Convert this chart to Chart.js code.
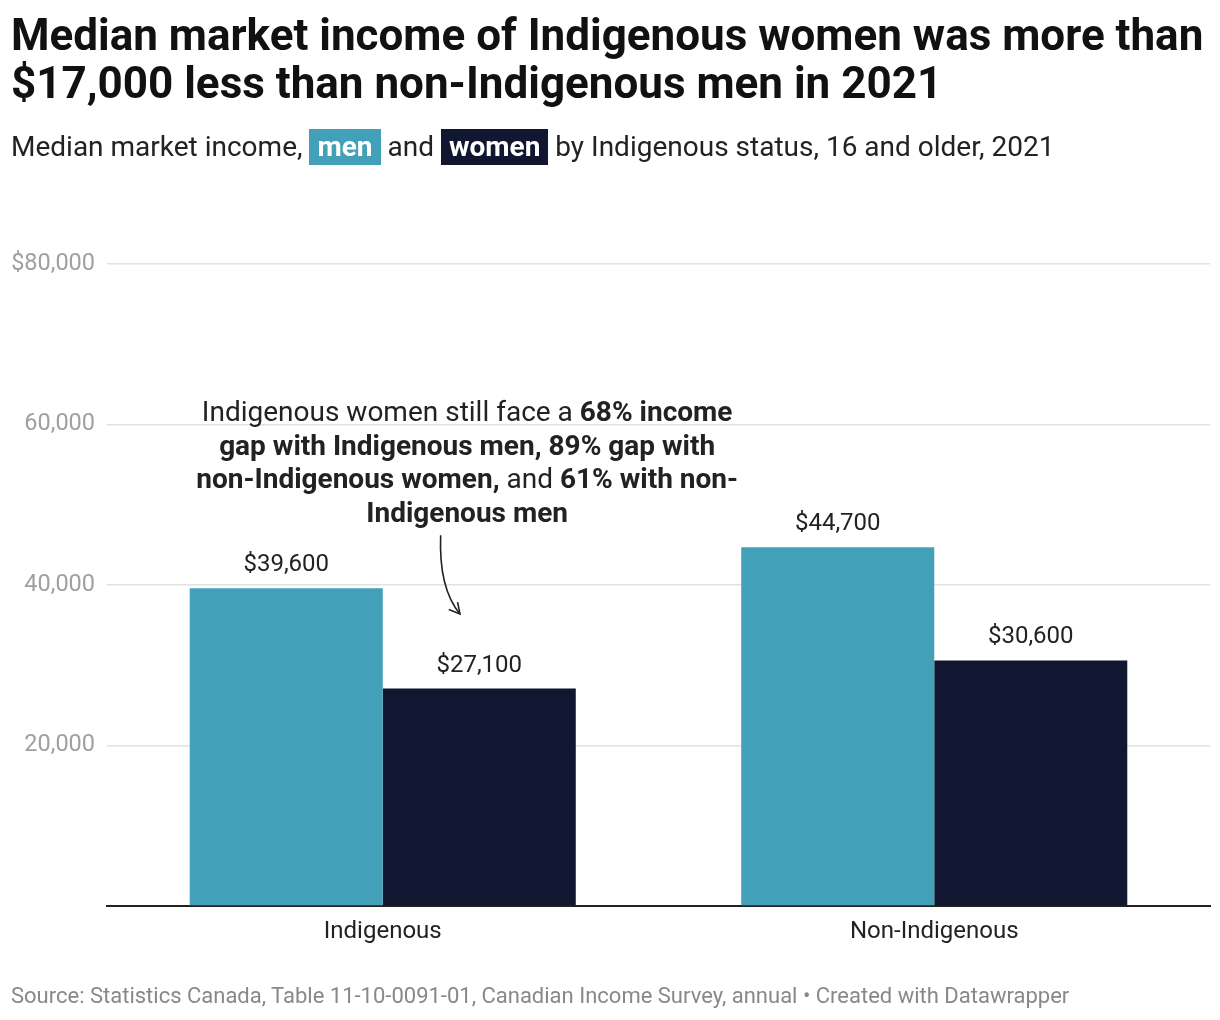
<!DOCTYPE html>
<html>
<head>
<meta charset="utf-8">
<script src="https://cdn.jsdelivr.net/npm/chart.js@4"></script>
<style>
  html, body { margin: 0; padding: 0; background: #fff; }
  body { width: 1220px; height: 1020px; position: relative; font-family: Roboto, "Noto Sans", sans-serif; overflow: hidden; }
  #title { position: absolute; left: 11px; top: 11px; width: 1215px; font-size: 44px; font-weight: 700; line-height: 48px; color: #111; }
  #subtitle { position: absolute; left: 11px; top: 127px; font-size: 28px; line-height: 40px; color: #222; white-space: nowrap; }
  .hl { color: #fff; font-weight: 700; padding: 1px 8px 2px 8px; }
  #footer { position: absolute; left: 11px; top: 983px; font-size: 22px; color: #888; white-space: nowrap; }
  #wrap { position: absolute; left: 0; top: 0; width: 1220px; height: 1020px; }
</style>
</head>
<body>
<div id="wrap"><canvas id="c" width="1220" height="1020"></canvas></div>
<div id="title">Median market income of Indigenous women was more than $17,000 less than non-Indigenous men in 2021</div>
<div id="subtitle">Median market income, <span class="hl" style="background:#43a0b9">men</span> and <span class="hl" style="background:#111631">women</span> by Indigenous status, 16 and older, 2021</div>
<div id="footer">Source: Statistics Canada, Table 11-10-0091-01, Canadian Income Survey, annual • Created with Datawrapper</div>
<script>
const categories = ["Indigenous", "Non-Indigenous"];
const menValues = [39600, 44700];
const womenValues = [27100, 30600];
const seriesNames = ["men", "women"];
const yTicks = [0, 20000, 40000, 60000, 80000];

const MEN_COLOR = "#43a0b9";
const WOMEN_COLOR = "#111631";

function fmtMoney(v) { return "$" + v.toLocaleString("en-US"); }

const valueLabels = {
  id: "valueLabels",
  afterDatasetsDraw(chart) {
    const ctx = chart.ctx;
    ctx.save();
    ctx.font = "24px Roboto";
    ctx.fillStyle = "#222";
    ctx.textAlign = "center";
    ctx.textBaseline = "middle";
    chart.data.datasets.forEach((ds, di) => {
      const meta = chart.getDatasetMeta(di);
      meta.data.forEach((bar, i) => {
        ctx.fillText(fmtMoney(ds.data[i]), bar.x, bar.y - 23);
      });
    });
    ctx.restore();
  }
};

const annotation = {
  id: "annotation",
  afterDatasetsDraw(chart) {
    const ctx = chart.ctx;
    const xs = chart.scales.x, ys = chart.scales.y;
    const catW = xs.getPixelForValue(1) - xs.getPixelForValue(0);
    const cx = xs.getPixelForValue(0) + 0.153 * catW;
    const y0 = ys.getPixelForValue(61300);
    const lh = 33.5;
    const lines = [
      [["Indigenous women still face a ", false], ["68% income", true]],
      [["gap with Indigenous men, 89% gap with", true]],
      [["non-Indigenous women,", true], [" and ", false], ["61% with non-", true]],
      [["Indigenous men", true]]
    ];
    ctx.save();
    ctx.fillStyle = "#222";
    ctx.textBaseline = "middle";
    ctx.textAlign = "left";
    const F = b => (b ? "bold " : "") + "28px Roboto";
    lines.forEach((segs, li) => {
      let w = 0;
      segs.forEach(([t, b]) => { ctx.font = F(b); w += ctx.measureText(t).width; });
      let x = cx - w / 2;
      const y = y0 + li * lh;
      segs.forEach(([t, b]) => { ctx.font = F(b); ctx.fillText(t, x, y); x += ctx.measureText(t).width; });
    });
    // arrow
    const ax0 = xs.getPixelForValue(0) + 0.105 * catW, ay0 = ys.getPixelForValue(46200);
    const ax1 = xs.getPixelForValue(0) + 0.14 * catW, ay1 = ys.getPixelForValue(36400);
    const cpx = ax0 - 2, cpy = (ay0 + ay1) / 2 + 14;
    ctx.strokeStyle = "#222";
    ctx.lineWidth = 1.6;
    ctx.beginPath();
    ctx.moveTo(ax0, ay0);
    ctx.quadraticCurveTo(cpx, cpy, ax1, ay1);
    ctx.stroke();
    const ang = Math.atan2(ay1 - cpy, ax1 - cpx);
    const hl = 12;
    ctx.beginPath();
    ctx.moveTo(ax1 + hl * Math.cos(ang + Math.PI - 0.5), ay1 + hl * Math.sin(ang + Math.PI - 0.5));
    ctx.lineTo(ax1, ay1);
    ctx.lineTo(ax1 + hl * Math.cos(ang + Math.PI + 0.5), ay1 + hl * Math.sin(ang + Math.PI + 0.5));
    ctx.stroke();
    ctx.restore();
  }
};

new Chart(document.getElementById("c"), {
  type: "bar",
  data: {
    labels: categories,
    datasets: [
      { label: seriesNames[0], data: menValues, backgroundColor: MEN_COLOR, categoryPercentage: 0.7, barPercentage: 1.0 },
      { label: seriesNames[1], data: womenValues, backgroundColor: WOMEN_COLOR, categoryPercentage: 0.7, barPercentage: 1.0 }
    ]
  },
  options: {
    responsive: false,
    animation: false,
    devicePixelRatio: 1,
    layout: { padding: { left: 0, right: 10, top: 264, bottom: 0 } },
    plugins: { legend: { display: false }, tooltip: { enabled: false } },
    scales: {
      x: {
        grid: { display: false },
        border: { display: true, color: "#222", width: 2 },
        ticks: { color: "#222", font: { family: "Roboto", size: 24 }, padding: 4 },
        afterFit(s) { s.height = 114; }
      },
      y: {
        min: 0, max: 80000,
        ticks: {
          stepSize: 20000,
          color: "#a0a0a0",
          font: { family: "Roboto", size: 23.5 },
          padding: 12,
          callback: (v) => v === 0 ? "" : (v === yTicks[yTicks.length - 1] ? fmtMoney(v) : v.toLocaleString("en-US"))
        },
        grid: { color: "#e2e2e2", lineWidth: 1.5, drawTicks: false },
        border: { display: false },
        afterFit(s) { s.width = 107; }
      }
    }
  },
  plugins: [valueLabels, annotation]
});
</script>
</body>
</html>
